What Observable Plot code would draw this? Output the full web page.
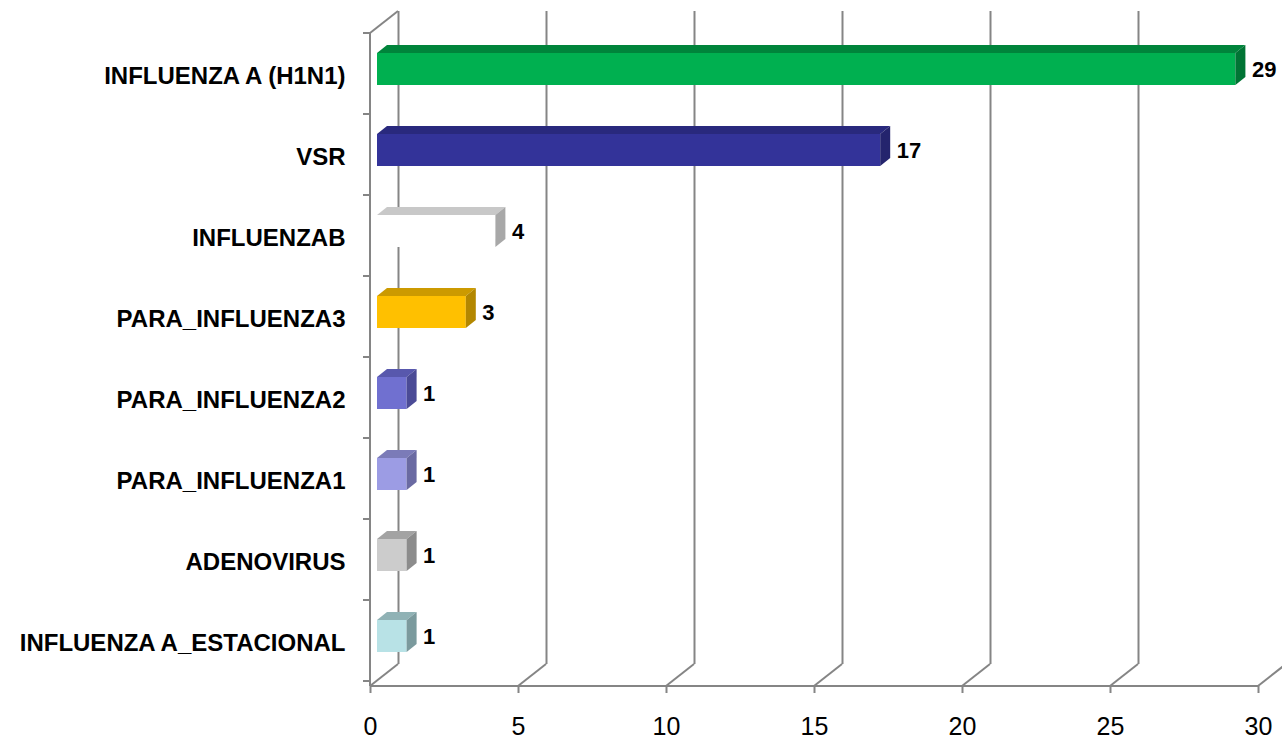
<!DOCTYPE html>
<html>
<head>
<meta charset="utf-8">
<script src="https://cdn.jsdelivr.net/npm/d3@7"></script>
<script src="https://cdn.jsdelivr.net/npm/@observablehq/plot@0.6"></script>
<style>
  html, body { margin: 0; padding: 0; background: #ffffff; }
  #chart { width: 1282px; height: 741px; overflow: hidden; }
</style>
</head>
<body>
<div id="chart"></div>
<script>
// ---- data ----
const categories = ["INFLUENZA A (H1N1)", "VSR", "INFLUENZAB", "PARA_INFLUENZA3", "PARA_INFLUENZA2", "PARA_INFLUENZA1", "ADENOVIRUS", "INFLUENZA A_ESTACIONAL"];
const counts = [29, 17, 4, 3, 1, 1, 1, 1];
const frontColors = ["#00b050", "#333399", "#ffffff", "#ffc000", "#7070d0", "#9c9ce4", "#cccccc", "#b8e2e6"];
const topColors   = ["#00843b", "#29297d", "#c8c8c8", "#cc9a00", "#5858ad", "#7b7bb8", "#a3a3a3", "#90b2b5"];
const sideColors  = ["#007434", "#24246d", "#a8a8a8", "#b38700", "#4b4b96", "#6a6aa2", "#8c8c8c", "#7b9a9d"];
const xTicks = [0, 5, 10, 15, 20, 25, 30];

const data = categories.map((c, i) => ({category: c, value: counts[i], front: frontColors[i], top: topColors[i], side: sideColors[i]}));

const GRID = "#858585";
const BAR_DX = 7, BAR_DY = -7;      // bar shift into depth
const FACE_DX = 10, FACE_DY = -8;   // bar depth faces
const WALL_DX = 28, WALL_DY = -22;  // back wall offset

// walls / floor lines drawn with the plot's scales
function walls(index, scales, values, dimensions) {
  const {height, marginTop, marginBottom} = dimensions;
  const top = marginTop, bottom = height - marginBottom;
  const x0 = scales.x(0), x1 = scales.x(30);
  const g = d3.create("svg:g").attr("stroke", GRID).attr("stroke-width", 2).attr("fill", "none");
  g.append("line").attr("x1", x0).attr("x2", x0).attr("y1", top).attr("y2", bottom);
  g.append("line").attr("x1", x0).attr("y1", top).attr("x2", x0 + WALL_DX).attr("y2", top + WALL_DY);
  const step = scales.y.step ? scales.y.step() : (bottom - top) / categories.length;
  for (let i = 0; i <= categories.length; i++) {
    const y = top + i * step;
    g.append("line").attr("x1", x0 - 7).attr("x2", x0).attr("y1", y).attr("y2", y);
  }
  g.append("line").attr("x1", x0).attr("x2", x1).attr("y1", bottom).attr("y2", bottom);
  for (const t of xTicks) {
    const x = scales.x(t);
    g.append("line").attr("x1", x).attr("y1", bottom).attr("x2", x + WALL_DX).attr("y2", bottom + WALL_DY);
  }
  return g.node();
}

// top and side faces of the 3D bars
function faces(index, scales, values, dimensions) {
  const g = d3.create("svg:g");
  const bw = scales.y.bandwidth ? scales.y.bandwidth() : 32;
  for (const d of data) {
    const xa = scales.x(0) + BAR_DX;
    const xb = scales.x(d.value) + BAR_DX;
    const yt = scales.y(d.category) + BAR_DY;
    const yb = yt + bw;
    g.append("polygon")
      .attr("points", [[xa, yt], [xb, yt], [xb + FACE_DX, yt + FACE_DY], [xa + FACE_DX, yt + FACE_DY]].map(p => p.join(",")).join(" "))
      .attr("fill", d.top);
    g.append("polygon")
      .attr("points", [[xb, yt], [xb + FACE_DX, yt + FACE_DY], [xb + FACE_DX, yb + FACE_DY], [xb, yb]].map(p => p.join(",")).join(" "))
      .attr("fill", d.side);
  }
  return g.node();
}

const chart = Plot.plot({
  width: 1282,
  height: 741,
  marginLeft: 370,
  marginRight: 24,
  marginTop: 33,
  marginBottom: 55,
  style: {fontFamily: "'Liberation Sans', Arial, sans-serif", background: "#ffffff", color: "#000"},
  x: {domain: [0, 30], label: null},
  y: {domain: categories, paddingInner: 0.608, paddingOuter: 0.304, label: null},
  color: {type: "identity"},
  marks: [
    Plot.ruleX(xTicks, {x: d => d, dx: WALL_DX, dy: WALL_DY, stroke: GRID, strokeWidth: 2}),
    walls,
    Plot.axisX({ticks: xTicks, tickSize: 7, tickPadding: 24, fontSize: 25, stroke: GRID, strokeWidth: 2, fill: "#000", label: null, tickFormat: d => String(d)}),
    Plot.axisY({tickSize: 0, tickPadding: 25, fontSize: 24, fontWeight: "bold", fill: "#000", label: null}),
    Plot.barX(data, {x: "value", y: "category", fill: "front", dx: BAR_DX, dy: BAR_DY}),
    faces,
    Plot.text(data, {x: "value", y: "category", text: d => String(d.value), dx: BAR_DX + FACE_DX + 6, dy: BAR_DY, textAnchor: "start", fontSize: 22, fontWeight: "bold", fill: "#000"})
  ]
});
document.getElementById("chart").appendChild(chart);
</script>
</body>
</html>
